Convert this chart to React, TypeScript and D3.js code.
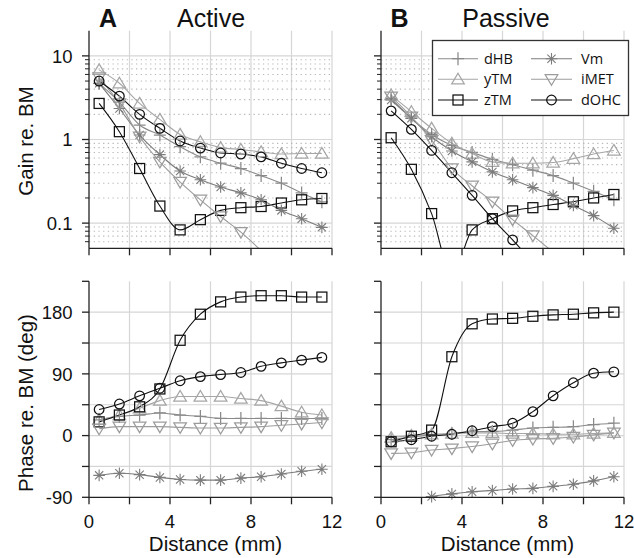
import React from 'react';
import * as d3 from 'd3';

const distance = [0.5, 1.5, 2.5, 3.5, 4.5, 5.5, 6.5, 7.5, 8.5, 9.5, 10.5, 11.5];
const seriesNames = ['dHB', 'yTM', 'zTM', 'Vm', 'iMET', 'dOHC'];

// Gain re. BM — Active
const gainActive_dHB = [4.7, 2.8, 1.49, 1.13, 0.82, 0.62, 0.52, 0.45, 0.37, 0.3, 0.23, 0.18];
const gainActive_yTM = [6.8, 4.7, 2.7, 1.74, 1.15, 0.94, 0.8, 0.76, 0.71, 0.67, 0.68, 0.68];
const gainActive_zTM = [2.7, 1.24, 0.45, 0.16, 0.083, 0.11, 0.142, 0.153, 0.158, 0.174, 0.19, 0.197];
const gainActive_Vm = [4.7, 2.35, 1.13, 0.66, 0.42, 0.33, 0.27, 0.23, 0.19, 0.142, 0.113, 0.089];
const gainActive_iMET = [5.5, 2.7, 1.08, 0.54, 0.31, 0.19, 0.12, 0.078, 0.047, null, null, null];
const gainActive_dOHC = [5.0, 3.3, 2.0, 1.36, 0.96, 0.79, 0.69, 0.67, 0.62, 0.52, 0.45, 0.4];

// Gain re. BM — Passive
const gainPassive_dHB = [3.1, 1.8, 1.15, 0.85, 0.7, 0.58, 0.5, 0.43, 0.37, 0.3, 0.24, 0.19];
const gainPassive_yTM = [3.4, 2.15, 1.36, 0.9, 0.68, 0.54, 0.52, 0.52, 0.53, 0.59, 0.67, 0.74];
const gainPassive_zTM = [1.05, 0.44, 0.13, 0.024, 0.083, 0.113, 0.14, 0.153, 0.167, 0.18, 0.2, 0.22];
const gainPassive_Vm = [2.97, 1.79, 1.08, 0.73, 0.54, 0.41, 0.33, 0.266, 0.215, 0.163, 0.123, 0.087];
const gainPassive_iMET = [3.25, 1.87, 0.98, 0.45, 0.28, 0.18, 0.11, 0.071, 0.045, null, null, null];
const gainPassive_dOHC = [2.2, 1.32, 0.74, 0.4, 0.215, 0.113, 0.063, 0.034, null, null, null, null];

// Phase re. BM (deg) — Active
const phaseActive_dHB = [23, 28, 30, 33, 30, 28, 25, 25, 25, 25, 25, 25];
const phaseActive_yTM = [23, 30, 40, 51, 57, 57, 57, 54, 51, 43, 34, 30];
const phaseActive_zTM = [20, 30, 42, 68, 139, 177, 195, 202, 204, 204, 202, 202];
const phaseActive_Vm = [-58, -55, -57, -61, -64, -65, -65, -62, -60, -56, -52, -49];
const phaseActive_iMET = [10, 13, 13, 13, 12, 11, 11, 12, 13, 15, 17, 19];
const phaseActive_dOHC = [38, 46, 58, 69, 80, 86, 89, 92, 101, 106, 110, 114];

// Phase re. BM (deg) — Passive
const phasePassive_dHB = [-6, -2, 1, 3, 6, 6, 8, 11, 12, 13, 16, 18];
const phasePassive_yTM = [-3, 0, 2, 3, 4, 4, 3, 3, 2, 2, 3, 4];
const phasePassive_zTM = [-9, -1, 8, 115, 163, 170, 171, 174, 176, 177, 179, 180];
const phasePassive_Vm = [null, -100, -89, -85, -82, -80, -78, -77, -74, -71, -66, -60];
const phasePassive_iMET = [-26, -25, -21, -19, -16, -12, -7, -5, -4, -2, 1, 4];
const phasePassive_dOHC = [-9, -6, -1, 2, 7, 13, 18, 35, 58, 77, 91, 93];

const gainTicks = [0.1, 1, 10];
const gainTickLabels = ['0.1', '1', '10'];
const phaseTicks = [-90, 0, 90, 180];
const phaseTickLabels = ['-90', '0', '90', '180'];
const distanceTicks = [0, 4, 8, 12];
const distanceTickLabels = ['0', '4', '8', '12'];

const STYLE: Record<string, { color: string; marker: string }> = {
  dHB: { color: '#8a8a8a', marker: 'plus' },
  yTM: { color: '#a6a6a6', marker: 'tri' },
  zTM: { color: '#111111', marker: 'square' },
  Vm: { color: '#7c7c7c', marker: 'star' },
  iMET: { color: '#9c9c9c', marker: 'tridown' },
  dOHC: { color: '#111111', marker: 'circle' },
};

const FONT = '"Liberation Sans", Arial, Helvetica, sans-serif';

function Marker({ type, x, y, color }: { type: string; x: number; y: number; color: string }) {
  const sw = 1.25;
  switch (type) {
    case 'plus':
      return <path d={`M${x - 6},${y}H${x + 6}M${x},${y - 6.5}V${y + 6.5}`} stroke={color} strokeWidth={sw} fill="none" />;
    case 'tri':
      return <path d={`M${x},${y - 6}L${x + 6.3},${y + 4.6}L${x - 6.3},${y + 4.6}Z`} stroke={color} strokeWidth={sw} fill="none" />;
    case 'tridown':
      return <path d={`M${x},${y + 6}L${x + 6.3},${y - 4.6}L${x - 6.3},${y - 4.6}Z`} stroke={color} strokeWidth={sw} fill="none" />;
    case 'square':
      return <rect x={x - 5} y={y - 5} width={10} height={10} stroke={color} strokeWidth={sw} fill="none" />;
    case 'circle':
      return <circle cx={x} cy={y} r={4.8} stroke={color} strokeWidth={sw} fill="none" />;
    case 'star': {
      const a = 5.8, b = 4.1;
      return (
        <path
          d={`M${x - a},${y}H${x + a}M${x},${y - a}V${y + a}M${x - b},${y - b}L${x + b},${y + b}M${x - b},${y + b}L${x + b},${y - b}`}
          stroke={color}
          strokeWidth={1.1}
          fill="none"
        />
      );
    }
  }
  return null;
}

type Series = { name: string; values: (number | null)[] };

function Panel({
  id, x0, x1, yScale, series, kind, showYLabels, showXLabels,
}: {
  id: string; x0: number; x1: number; yScale: any; series: Series[]; kind: 'gain' | 'phase';
  showYLabels: boolean; showXLabels: boolean;
}) {
  const x = d3.scaleLinear().domain([0, 12]).range([x0, x1]);
  const [yb, yt] = yScale.range();
  const [dmin, dmax] = yScale.domain();
  const gridX = d3.range(2, 13, 2);
  const grid = '#d6d6d6';

  let majorY: number[] = [];
  let minorY: number[] = [];
  let tickY: number[] = [];
  let labels: string[] = [];
  if (kind === 'gain') {
    majorY = gainTicks;
    tickY = gainTicks;
    labels = gainTickLabels;
    for (const dec of [0.01, 0.1, 1]) {
      for (let k = 2; k <= 9; k++) {
        const v = +(dec * k).toPrecision(3);
        if (v > dmin && v < dmax) minorY.push(v);
      }
    }
  } else {
    majorY = d3.range(-45, 225, 45);
    tickY = d3.range(-90, 226, 45);
    labels = phaseTickLabels;
  }

  const line = d3
    .line<{ d: number; v: number | null }>()
    .defined((p) => p.v != null)
    .x((p) => x(p.d))
    .y((p) => yScale(p.v as number))
    .curve(d3.curveMonotoneX);

  return (
    <g>
      <defs>
        <clipPath id={`clip-${id}`}>
          <rect x={x0} y={yt} width={x1 - x0} height={yb - yt} />
        </clipPath>
      </defs>
      {/* grid */}
      {gridX.map((g) => (
        <line key={'gx' + g} x1={x(g)} x2={x(g)} y1={yt} y2={yb} stroke={grid} strokeWidth={1.2} />
      ))}
      {minorY.map((g) => (
        <line key={'my' + g} x1={x0} x2={x1} y1={yScale(g)} y2={yScale(g)} stroke="#b8b8b8" strokeWidth={1.1} strokeDasharray="1.3 3.4" />
      ))}
      {majorY.map((g) => (
        <line key={'gy' + g} x1={x0} x2={x1} y1={yScale(g)} y2={yScale(g)} stroke={grid} strokeWidth={1.2} />
      ))}
      {/* lines */}
      <g clipPath={`url(#clip-${id})`}>
        {series.map((s) => (
          <path
            key={'l' + s.name}
            d={line(distance.map((d, i) => ({ d, v: s.values[i] }))) || ''}
            fill="none"
            stroke={STYLE[s.name].color}
            strokeWidth={1.1}
          />
        ))}
      </g>
      {/* markers */}
      {series.map((s) => (
        <g key={'m' + s.name}>
          {distance.map((d, i) => {
            const v = s.values[i];
            if (v == null || v < dmin || v > dmax) return null;
            return <Marker key={i} type={STYLE[s.name].marker} x={x(d)} y={yScale(v)} color={STYLE[s.name].color} />;
          })}
        </g>
      ))}
      {/* axes */}
      <line x1={x0} x2={x0} y1={yt} y2={yb} stroke="#222" strokeWidth={1.3} />
      <line x1={x0} x2={x1} y1={yb} y2={yb} stroke="#222" strokeWidth={1.3} />
      {d3.range(0, 13, 2).map((t) => (
        <line key={'xt' + t} x1={x(t)} x2={x(t)} y1={yb} y2={yb + 7} stroke="#222" strokeWidth={1.3} />
      ))}
      {tickY.map((t) => (
        <line key={'yt' + t} x1={x0 - 7} x2={x0} y1={yScale(t)} y2={yScale(t)} stroke="#222" strokeWidth={1.3} />
      ))}
      {kind === 'gain' &&
        minorY.map((t) => (
          <line key={'ymt' + t} x1={x0 - 4} x2={x0} y1={yScale(t)} y2={yScale(t)} stroke="#222" strokeWidth={1} />
        ))}
      {showYLabels &&
        (kind === 'gain' ? gainTicks : phaseTicks).map((t, i) => (
          <text key={'yl' + t} x={x0 - 16.5} y={yScale(t)} dy="0.36em" textAnchor="end" fontFamily={FONT} fontSize={18.5} fill="#111">
            {labels[i]}
          </text>
        ))}
      {showXLabels &&
        distanceTicks.map((t, i) => (
          <text key={'xl' + t} x={x(t)} y={yb + 31} textAnchor="middle" fontFamily={FONT} fontSize={18.5} fill="#111">
            {distanceTickLabels[i]}
          </text>
        ))}
      {showXLabels && (
        <text x={(x0 + x1) / 2 + 5} y={yb + 54} textAnchor="middle" fontFamily={FONT} fontSize={20.5} fill="#111">
          Distance (mm)
        </text>
      )}
    </g>
  );
}

function Legend() {
  const rows = [58.7, 79.3, 100];
  const cols = [
    { l0: 438, l1: 478, m: 458, t: 484 },
    { l0: 531, l1: 572, m: 551.5, t: 581 },
  ];
  return (
    <g>
      <rect x={432.5} y={40.5} width={196} height={75} fill="#fff" stroke="#333" strokeWidth={1.3} />
      {seriesNames.map((name, i) => {
        const c = cols[Math.floor(i / 3)];
        const y = rows[i % 3];
        const st = STYLE[name];
        return (
          <g key={name}>
            <line x1={c.l0} x2={c.l1} y1={y} y2={y} stroke={st.color} strokeWidth={1.1} />
            <Marker type={st.marker} x={c.m} y={y} color={st.color} />
            <text x={c.t} y={y} dy="0.35em" fontFamily='"Open Sans", sans-serif' fontSize={14.5} fill="#111">
              {name}
            </text>
          </g>
        );
      })}
    </g>
  );
}

function mk(names: string[], arrs: (number | null)[][]): Series[] {
  return names.map((n, i) => ({ name: n, values: arrs[i] }));
}

export default function App() {
  const yGain = d3.scaleLog().domain([0.05, 20]).range([248.3, 30.7]);
  const yPhase = d3.scaleLinear().domain([-90, 225]).range([497.3, 281.3]);

  const gA = mk(seriesNames, [gainActive_dHB, gainActive_yTM, gainActive_zTM, gainActive_Vm, gainActive_iMET, gainActive_dOHC]);
  const gP = mk(seriesNames, [gainPassive_dHB, gainPassive_yTM, gainPassive_zTM, gainPassive_Vm, gainPassive_iMET, gainPassive_dOHC]);
  const pA = mk(seriesNames, [phaseActive_dHB, phaseActive_yTM, phaseActive_zTM, phaseActive_Vm, phaseActive_iMET, phaseActive_dOHC]);
  const pP = mk(seriesNames, [phasePassive_dHB, phasePassive_yTM, phasePassive_zTM, phasePassive_Vm, phasePassive_iMET, phasePassive_dOHC]);

  return (
    <svg width={634} height={558} style={{ position: 'absolute', left: 0, top: 0, background: '#fff' }}>
      <rect width={634} height={558} fill="#fff" />
      <Panel id="ga" x0={89} x1={332} yScale={yGain} series={gA} kind="gain" showYLabels showXLabels={false} />
      <Panel id="gp" x0={381} x1={624} yScale={yGain} series={gP} kind="gain" showYLabels={false} showXLabels={false} />
      <Panel id="pa" x0={89} x1={332} yScale={yPhase} series={pA} kind="phase" showYLabels showXLabels />
      <Panel id="pp" x0={381} x1={624} yScale={yPhase} series={pP} kind="phase" showYLabels={false} showXLabels />
      <Legend />
      <text x={99} y={26.7} fontFamily={FONT} fontWeight="bold" fontSize={25} fill="#111">A</text>
      <text x={211} y={26.7} textAnchor="middle" fontFamily={FONT} fontSize={25} fill="#111">Active</text>
      <text x={390.5} y={26.7} fontFamily={FONT} fontWeight="bold" fontSize={25} fill="#111">B</text>
      <text x={506} y={26.7} textAnchor="middle" fontFamily={FONT} fontSize={25} fill="#111">Passive</text>
      <text transform="translate(33,141) rotate(-90)" textAnchor="middle" fontFamily={FONT} fontSize={20.5} fill="#111">Gain re. BM</text>
      <text transform="translate(33,403) rotate(-90)" textAnchor="middle" fontFamily={FONT} fontSize={20.5} fill="#111">Phase re. BM (deg)</text>
    </svg>
  );
}
